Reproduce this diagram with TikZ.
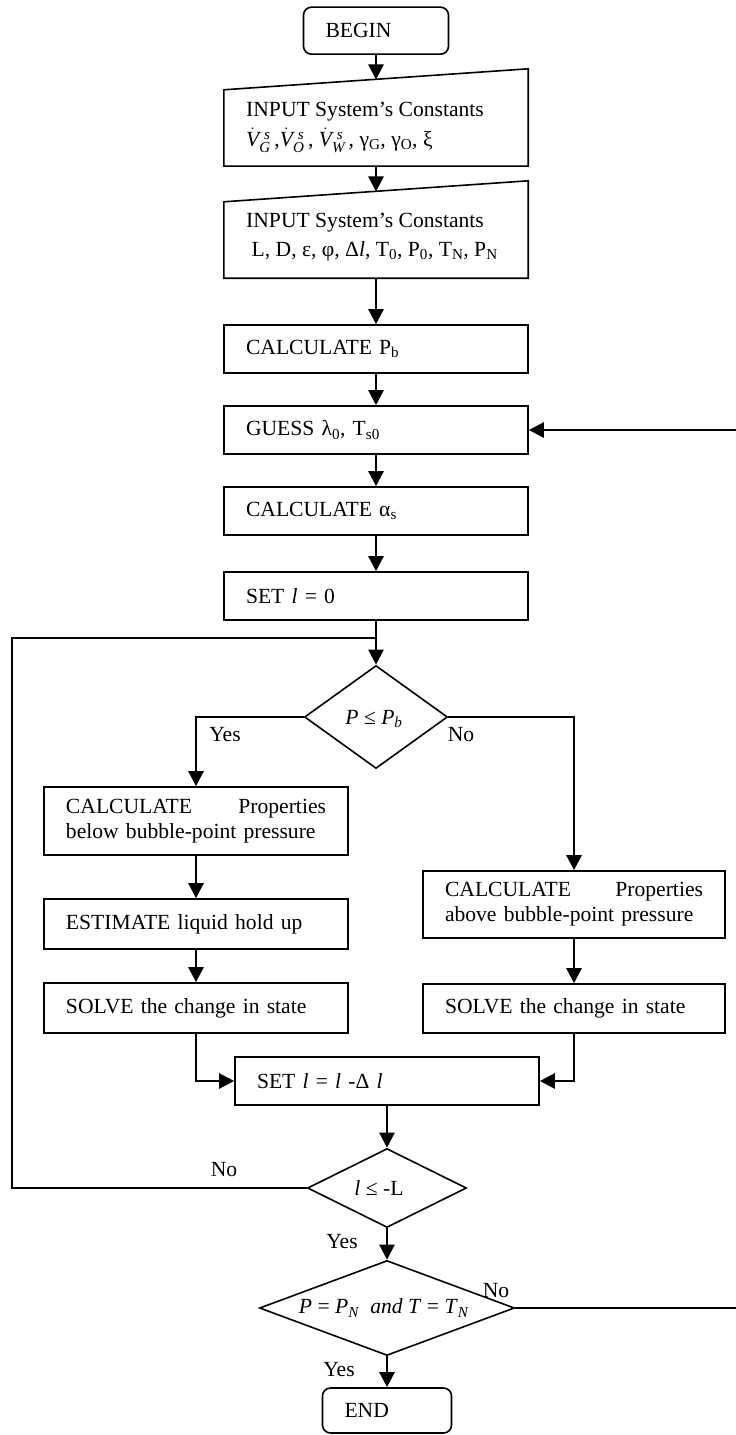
\documentclass[tikz,border=0pt]{standalone}
\usepackage{amsmath}
\usepackage{fontspec}
\setmainfont{Liberation Serif}
\usetikzlibrary{arrows.meta,shapes.geometric}
\newcommand{\vdotq}[1]{$\dot{\textit{V}}{}_{\textit{#1}}^{\,\,\textit{s}}$}
\begin{document}
\begin{tikzpicture}[x=1bp,y=-1bp,
  every node/.style={font=\fontsize{21.6bp}{25bp}\selectfont},
  pbox/.style={draw,line width=1.6bp,inner xsep=22bp,inner ysep=0pt,align=left,anchor=center},
  rbox/.style={pbox,rounded corners=8bp},
  dia/.style={draw,diamond,line width=1.6bp,inner sep=0pt},
  iobox/.style={inner sep=0pt,minimum width=304bp,minimum height=97bp},
  conn/.style={line width=2.4bp},
  arr/.style={conn,-{Triangle[length=15bp,width=15bp]}},
  lbl/.style={inner sep=0pt},
  txt/.style={inner sep=0pt,anchor=base west}]
\useasboundingbox (0,0) rectangle (735,1435);

% terminals
\node[rbox,text width=101bp,minimum height=47bp] (begin) at (376,30.7) {BEGIN};
\node[rbox,text width=85bp,minimum height=45bp] (end) at (387,1410.5) {END};

% input boxes (manual input shape)
\node[iobox] (in1) at (376,117.5) {};
\draw[line width=1.6bp] (in1.south west) -- (in1.south east) -- (in1.north east) -- ([yshift=-21bp]in1.north west) -- cycle;
\node[txt] (in1a) at (246,116.5) {INPUT System’s Constants};
\node[txt] (in1b) at (246,146.5) {\vdotq{G}\,,\vdotq{O}\,, \vdotq{W}\,, γ\textsubscript{G}, γ\textsubscript{O}, ξ};
\coordinate (in1top) at (376,79.5);

\node[iobox] (in2) at (376,229.5) {};
\draw[line width=1.6bp] (in2.south west) -- (in2.south east) -- (in2.north east) -- ([yshift=-21bp]in2.north west) -- cycle;
\node[txt] (in2a) at (246,227.3) {INPUT System’s Constants};
\node[txt] (in2b) at (251.5,256) {L, D, ε, φ, Δ\textit{l}, T\textsubscript{0}, P\textsubscript{0}, T\textsubscript{N}, P\textsubscript{N}};
\coordinate (in2top) at (376,191.5);

% main column
\node[pbox,text width=260bp,minimum height=48bp] (calcpb) at (376,349) {CALCULATE P\textsubscript{b}};
\node[pbox,text width=260bp,minimum height=48bp] (guess) at (376,430) {GUESS λ\textsubscript{0}, T\textsubscript{s0}};
\node[pbox,text width=260bp,minimum height=48bp] (calca) at (376,511) {CALCULATE α\textsubscript{s}};
\node[pbox,text width=260bp,minimum height=48bp] (setz) at (376,596) {SET \textit{l} = 0};

% first decision
\node[dia,minimum width=143bp,minimum height=103bp] (d1) at (376,717) {};
\node[lbl] (d1t) at (374,719) {\textit{P} ≤ \textit{P}\textsubscript{\textit{b}}};

% left branch
\node[pbox,text width=260bp,minimum height=68bp] (calcb) at (196,821) {CALCULATE\hfill Properties\\below bubble-point pressure};
\node[pbox,text width=260bp,minimum height=50bp] (est) at (196,924) {ESTIMATE liquid hold up};
\node[pbox,text width=260bp,minimum height=50bp] (solvl) at (196,1008) {SOLVE the change in state};

% right branch
\node[pbox,text width=258bp,minimum height=67bp] (calcab) at (574,904.5) {CALCULATE\hfill Properties\\above bubble-point pressure};
\node[pbox,text width=258bp,minimum height=49bp] (solvr) at (574,1008.5) {SOLVE the change in state};

% update
\node[pbox,text width=260bp,minimum height=48bp] (setl) at (387,1081) {SET \textit{l} = \textit{l} -Δ \textit{l}};

% lower decisions
\node[dia,minimum width=159bp,minimum height=79bp] (d2) at (387,1188) {};
\node[lbl] (d2t) at (379,1188) {\textit{l} ≤ -L};
\node[dia,minimum width=255bp,minimum height=95bp] (d3) at (387,1308) {};
\node[lbl] (d3t) at (384,1308) {\textit{P} = \textit{P}\textsubscript{\textit{N}} \ \textit{and} \textit{T} = \textit{T}\textsubscript{\textit{N}}};

% labels
\node[lbl] (y1) at (225,735) {Yes};
\node[lbl] (n1) at (461,735) {No};
\node[lbl] (n2) at (224,1170) {No};
\node[lbl] (y2) at (342,1242) {Yes};
\node[lbl] (n3) at (496,1291) {No};
\node[lbl] (y3) at (339,1370) {Yes};

% helper coordinates
\coordinate (lc) at (12,638);
\coordinate (lj) at (376,638);
\coordinate (rc) at (745,1308);

% connectors
\draw[arr] (begin.south) -- (in1top);
\draw[arr] (in1.south) -- (in2top);
\draw[arr] (in2.south) -- (calcpb.north);
\draw[arr] (calcpb) -- (guess);
\draw[arr] (guess) -- (calca);
\draw[arr] (calca) -- (setz);
\draw[arr] (setz) -- (d1);
\draw[arr] (d1.west) -| (calcb.north);
\draw[arr] (d1.east) -| (calcab.north);
\draw[arr] (calcb) -- (est);
\draw[arr] (est) -- (solvl);
\draw[arr] (calcab) -- (solvr);
\draw[arr] (solvl.south) |- (setl.west);
\draw[arr] (solvr.south) |- (setl.east);
\draw[arr] (setl) -- (d2);
\draw[arr] (d2) -- (d3);
\draw[arr] (d3) -- (end);
\draw[conn] (d2.west) -| (lc) -- (lj);
\draw[arr] (d3.east) -- (rc) |- (guess.east);
\end{tikzpicture}
\end{document}
